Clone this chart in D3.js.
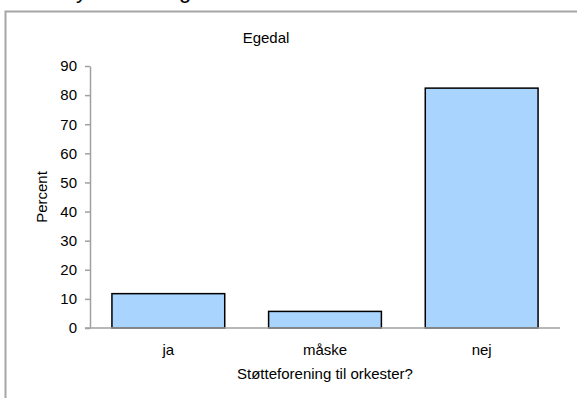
<!DOCTYPE html>
<html>
<head>
<meta charset="utf-8">
<script src="https://cdn.jsdelivr.net/npm/d3@7"></script>
<style>
  body { margin: 0; background: #fff; }
  text { font-family: "Liberation Sans", Arial, sans-serif; fill: #000; }
</style>
</head>
<body>
<svg id="chart"></svg>
<script>
const categories = ["ja", "måske", "nej"];
const values = [11.8, 5.7, 82.4];
const yTicks = [0, 10, 20, 30, 40, 50, 60, 70, 80, 90];
const chartTitle = "Egedal";
const xTitle = "Støtteforening til orkester?";
const yTitle = "Percent";

const width = 577;
const height = 398;
const margin = { top: 66, right: 17, bottom: 70, left: 90 };
const fontSize = "15px";

const svg = d3.select("#chart")
    .attr("width", width)
    .attr("height", height);

// cut off heading text above the frame
svg.append("text").attr("x", 76).attr("y", -2).style("font-size", "22px").text("y");
svg.append("text").attr("x", 179).attr("y", -2).style("font-size", "22px").text("g");

// outer frame
svg.append("path")
    .attr("d", `M5.5,${height} L5.5,11.5 L${width},11.5`)
    .attr("fill", "none")
    .attr("stroke", "#a6a6a6")
    .attr("stroke-width", 2);

const x = d3.scaleBand()
    .domain(categories)
    .range([margin.left, width - margin.right])
    .paddingInner(0.28)
    .paddingOuter(0.14);

const y = d3.scaleLinear()
    .domain([0, 90])
    .range([height - margin.bottom, margin.top]);

// y axis
const yAxis = svg.append("g")
    .attr("transform", `translate(${margin.left},0)`)
    .call(d3.axisLeft(y).tickValues(yTicks).tickSize(5).tickPadding(8).tickSizeOuter(0));
yAxis.select(".domain").attr("stroke", "#a0a0a0").attr("stroke-width", 1.5);
yAxis.selectAll(".tick line").attr("stroke", "#a0a0a0").attr("stroke-width", 1.5);
yAxis.selectAll(".tick text").style("font-size", fontSize).style("font-family", "Liberation Sans, Arial, sans-serif");

// bars
svg.selectAll("rect.bar")
    .data(values)
    .enter()
    .append("rect")
    .attr("class", "bar")
    .attr("x", (d, i) => x(categories[i]))
    .attr("y", d => y(d))
    .attr("width", x.bandwidth())
    .attr("height", d => y(0) - y(d))
    .attr("fill", "#a9d4fe")
    .attr("stroke", "#000")
    .attr("stroke-width", 1.5);

// x axis
const xAxis = svg.append("g")
    .attr("transform", `translate(0,${y(0)})`)
    .call(d3.axisBottom(x).tickSize(0).tickPadding(16));
xAxis.select(".domain")
    .attr("d", `M${margin.left - 5},0H${width - margin.right}`)
    .attr("stroke", "#a0a0a0").attr("stroke-width", 1.5);
xAxis.selectAll(".tick text").style("font-size", fontSize).style("font-family", "Liberation Sans, Arial, sans-serif");

// titles
svg.append("text")
    .attr("x", 266).attr("y", 43)
    .attr("text-anchor", "middle")
    .style("font-size", fontSize)
    .text(chartTitle);

svg.append("text")
    .attr("x", 325).attr("y", 379)
    .attr("text-anchor", "middle")
    .style("font-size", fontSize)
    .text(xTitle);

svg.append("text")
    .attr("transform", "translate(47,197) rotate(-90)")
    .attr("text-anchor", "middle")
    .style("font-size", fontSize)
    .text(yTitle);
</script>
</body>
</html>
